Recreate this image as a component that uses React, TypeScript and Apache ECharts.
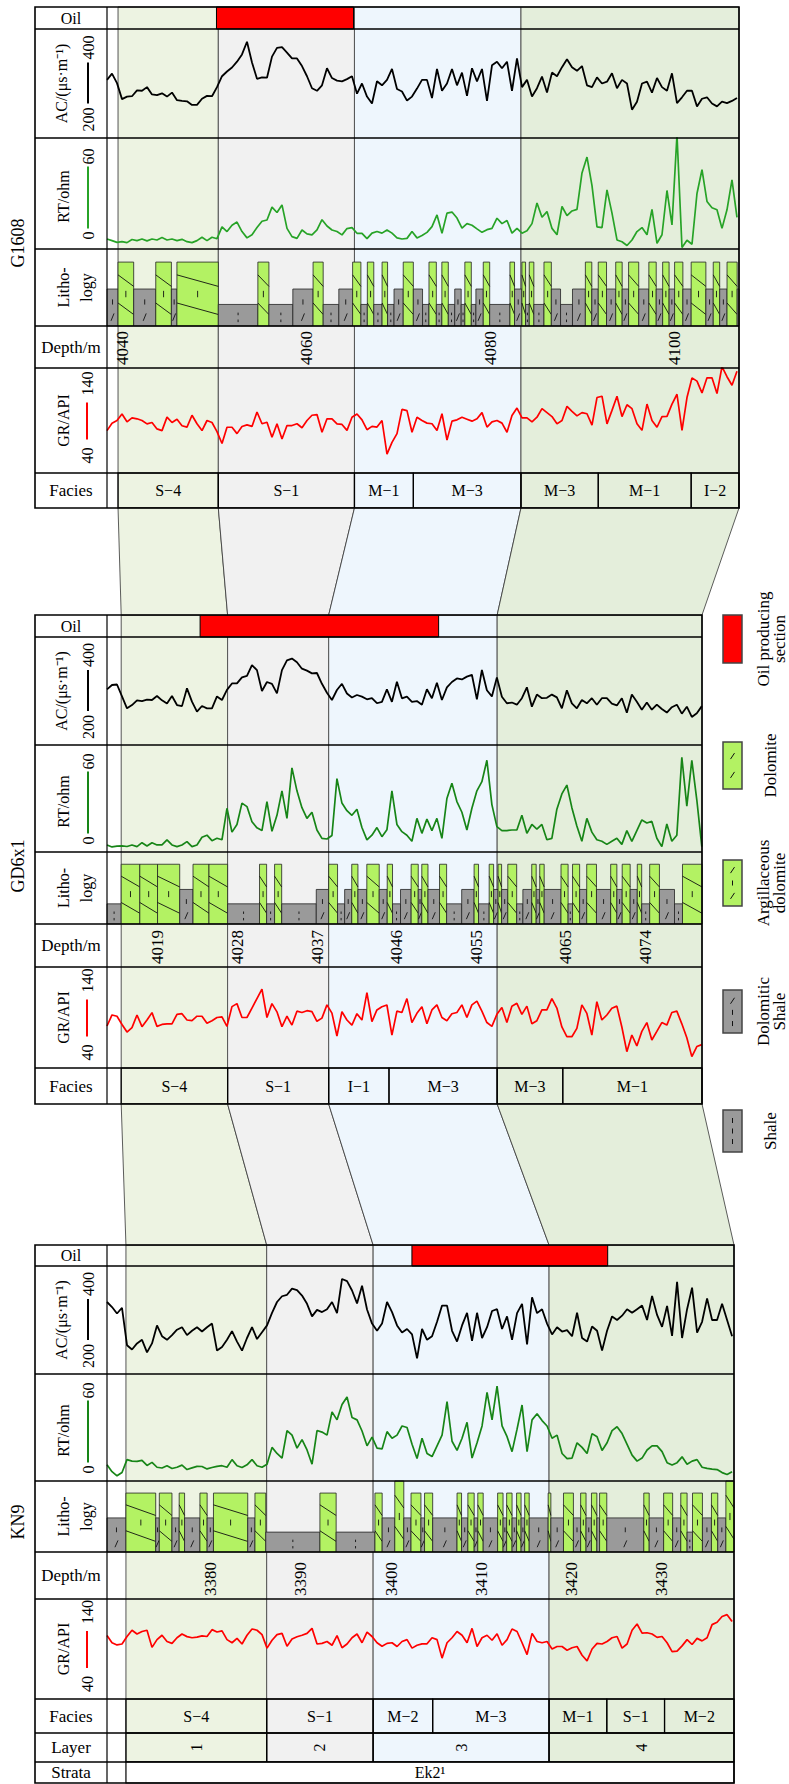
import React, { useEffect, useRef } from 'react';
import * as echarts from 'echarts';

const SERIF = "'Liberation Serif', 'Times New Roman', Times, serif";
const ZONE_COLORS = ['#edf3e2', '#f1f1f1', '#eef6fd', '#e4eedb'];
const GREEN = '#b3f263';
const GRAY = '#9a9a9a';
const LITHO_FRAC = [0.28, 0.48, 0.83, 1.0]; // shale, dolomitic shale, argillaceous dolomite, tall dolomite

// ---------------- Well G1608 ----------------
const G1608_RANGE = [4038.3, 4107.0];
const G1608_SAMPLE_STEP = 0.5435;
const G1608_DEPTH_TICKS = [4040, 4060, 4080, 4100];
const G1608_ZONE_BOUNDS = [4039.5, 4050.4, 4065.2, 4083.3, 4107.0];
const G1608_OIL = [4050.2, 4065.1];
const G1608_FACIES_NAMES = ['S−4', 'S−1', 'M−1', 'M−3', 'M−3', 'M−1', 'I−2'];
const G1608_FACIES_BOUNDS = [4039.5, 4050.4, 4065.2, 4071.6, 4083.3, 4091.7, 4101.8, 4107.0];
const G1608_AC = [310,327,301,257,264,265,281,280,290,270,268,273,264,275,254,252,251,241,241,258,266,265,290,320,333,344,360,380,415,358,313,317,316,374,398,400,385,369,369,348,320,287,280,295,342,315,308,306,312,320,272,300,264,245,306,295,310,340,285,278,253,264,286,310,310,260,340,280,300,340,295,330,266,342,306,340,252,350,360,342,360,280,369,290,310,264,287,319,275,330,320,345,367,345,335,348,295,290,317,300,305,328,287,310,300,228,250,300,305,275,315,290,280,328,246,262,280,280,237,258,262,245,237,250,246,252,260];
const G1608_RT = [6.3,5.3,4.2,4.6,4.0,6.0,5.3,6.3,5.1,6.3,5.7,7.2,5.7,6.3,5.3,6.1,4.6,4.0,5.3,7.4,5.3,7.4,6.5,14,11,15,17,11,7,9,13.5,17.5,18.3,26.4,23,27.8,13,7.8,6.7,12,9.5,8.9,12,18.5,14.5,12,11,8.9,12.9,13.5,9.9,9.9,6.5,10,11,10,12,10,7,6.3,6.7,11,7,8.5,10.5,14.1,21.5,9.9,22.6,23.3,19.5,13.1,16,15,12.7,10.5,12.2,13,19.4,16,18,10,13,10,11.5,16,29,20,23.6,13,9,26.8,21,24,25,48,58,40,14,13.5,37.3,22.6,5.7,4.6,2.2,5.7,11,13.5,9,25,3.6,9,36.9,15.2,72,1,5.5,3,35,50,30,26,24.7,13,24.7,43.6,20];
const G1608_GR = [84.6,95.9,100,110,98,104,102.6,100,94.9,97,87.2,84.6,105.1,97,102,92,90,108,95,84.6,100,97,83,65,89.7,89.7,80,90.8,93.3,91,113,95,97.4,74.4,94.9,71.8,92.3,92.3,95,89,100,108,109,82,102.6,102.6,94.9,94,85,105,110,101,86,91,90,100,48.7,66.7,80,117,115,82,105,100,96,95,84.6,110.3,70.3,99,101,105,102,99,102.6,112,90,98,100,96,82.1,107.7,119,104.1,104.1,98,105,118,112,106,94.9,100,121.5,114,107,112,110.3,93,135,137,94.9,115.4,136.9,106,124,118,95,85,125,100,89.7,106,106.2,125,140,85,135,165,160,142,165,165,141,182,166.7,153.8,175];
const G1608_LITHO = [[4038.3,4039.5,1],[4039.5,4041.2,2],[4041.2,4043.6,1],[4043.6,4045.3,2],[4045.3,4045.9,1],[4045.9,4050.4,2],[4050.4,4054.7,0],[4054.7,4055.9,2],[4055.9,4058.5,0],[4058.5,4060.7,1],[4060.7,4061.8,2],[4061.8,4063.5,0],[4063.5,4065.0,1],[4065.0,4065.9,2],[4065.9,4066.6,0],[4066.6,4067.3,2],[4067.3,4068.2,0],[4068.2,4068.8,2],[4068.8,4069.5,0],[4069.5,4070.5,1],[4070.5,4071.6,2],[4071.6,4072.6,1],[4072.6,4073.3,0],[4073.3,4074.1,2],[4074.1,4074.7,0],[4074.7,4075.4,2],[4075.4,4076.1,0],[4076.1,4076.8,1],[4076.8,4077.2,0],[4077.2,4077.9,2],[4077.9,4078.4,0],[4078.4,4079.2,1],[4079.2,4079.9,2],[4079.9,4082.1,0],[4082.1,4082.6,2],[4082.6,4083.4,1],[4083.4,4083.8,2],[4083.8,4084.2,0],[4084.2,4084.7,2],[4084.7,4085.8,0],[4085.8,4086.6,2],[4086.6,4087.6,1],[4087.6,4088.9,0],[4088.9,4090.3,1],[4090.3,4091.0,2],[4091.0,4091.7,1],[4091.7,4092.6,2],[4092.6,4093.6,1],[4093.6,4094.3,2],[4094.3,4095.0,1],[4095.0,4096.1,2],[4096.1,4097.2,1],[4097.2,4098.0,2],[4098.0,4098.7,1],[4098.7,4099.4,2],[4099.4,4100.0,1],[4100.0,4100.9,2],[4100.9,4101.8,1],[4101.8,4103.4,2],[4103.4,4104.2,1],[4104.2,4104.9,2],[4104.9,4105.7,1],[4105.7,4106.8,2],[4106.8,4107.0,1]];

// ---------------- Well GD6x1 ----------------
const GD6X1_RANGE = [4013.3, 4080.4];
const GD6X1_SAMPLE_STEP = 0.5637;
const GD6X1_DEPTH_TICKS = [4019, 4028, 4037, 4046, 4055, 4065, 4074];
const GD6X1_ZONE_BOUNDS = [4014.9, 4026.9, 4038.3, 4057.3, 4080.4];
const GD6X1_OIL = [4023.8, 4050.7];
const GD6X1_FACIES_NAMES = ['S−4', 'S−1', 'I−1', 'M−3', 'M−3', 'M−1'];
const GD6X1_FACIES_BOUNDS = [4014.9, 4026.9, 4038.3, 4045.1, 4057.3, 4064.7, 4080.4];
const GD6X1_AC = [304.6,316.7,318,285,252,261,274,272,276,275,286,274,265,286,261,258,307.4,270.4,242.6,258.3,251.9,251.9,285,275,303,321,321,338,342,372,358,300,325,320,293.5,358,385,390,380,362,356.5,349,350,320,295,275,302.8,320,293,282,288.9,284.3,277,280,266,270,304.6,270,325.9,279.6,284.3,270,272,262,305,280,323,275,310,325,335,332,340,345,276.9,358.3,302,285,337.9,284,266,268,262,280,310.2,256.5,290,280,281,290,282.4,251.9,301.9,265.7,251.9,275,265.7,280,262,280,280,265,260,280,239.8,290,270.4,248,268,248,262,250,240,255,262,237,256.5,228,238,258];
const GD6X1_RT = [4.6,3.3,3.8,4.0,3.6,4.6,3.5,6.1,3.9,6.1,4.6,4.6,7.9,4.6,3.5,4.6,6.8,3.5,4.6,9.6,11,7.4,9,8,28.6,13,18,32,29.7,19.8,15.8,14,32.9,13.5,24,40,22,55,40,29,22,26,14.4,8.9,8.5,10.8,48,32,27,24,28,16,7.9,11,16,10,14.5,40,18,13.3,11,7,22,12.2,21.5,14,22,8.9,35,45,33,26,14.4,28.6,40,46,60,31,16.6,14,14,14.4,14.4,24,12.2,18,15,18,8,8.9,28,38,43.8,29,17,7,22,13,8,7,5,7,9,5,14,7,14,21,19,20,9,3.5,18.3,7,11,62,30,60,34,3.5];
const GD6X1_GR = [86.5,104,102,89,77,84,104,85.5,96,107.7,86,89,90,90,105,106,96,95,102,102,91,95,100,101,86,117.2,122,100,100,115,130,145,100,122,109,85.5,102,88,110,108,110.8,109.2,94,99,120,107,70.7,109.2,96,88,106,96,139.3,93.4,112,117,119.8,72,110,108,130,92,106.6,117.2,90,112,120,100,95,106,108,120,100,120,126,110,92,86,105,116,92,118,122.5,105,118,90,95,112,112,130,115,85,69.6,69.6,82.8,120,106.6,72,125,96,104,114.5,118,85,45.9,72.3,55,78,92,64.4,78,92,88,108,110,90,68,38,54,57];
const GD6X1_LITHO = [[4013.3,4014.9,0],[4014.9,4017.0,2],[4017.0,4019.0,2],[4019.0,4021.5,2],[4021.5,4023.0,1],[4023.0,4024.8,2],[4024.8,4026.9,2],[4026.9,4030.5,0],[4030.5,4031.3,2],[4031.3,4032.2,0],[4032.2,4033.0,2],[4033.0,4036.9,0],[4036.9,4038.3,1],[4038.3,4039.3,2],[4039.3,4040.1,0],[4040.1,4040.9,1],[4040.9,4041.6,2],[4041.6,4042.6,1],[4042.6,4044.0,2],[4044.0,4044.9,1],[4044.9,4045.5,2],[4045.5,4046.4,0],[4046.4,4047.6,1],[4047.6,4048.4,2],[4048.4,4048.8,1],[4048.8,4049.5,2],[4049.5,4050.8,1],[4050.8,4051.6,2],[4051.6,4053.3,0],[4053.3,4054.7,1],[4054.7,4055.2,2],[4055.2,4056.4,0],[4056.4,4056.9,2],[4056.9,4057.4,1],[4057.4,4057.8,2],[4057.8,4058.5,1],[4058.5,4059.5,2],[4059.5,4060.2,0],[4060.2,4061.2,1],[4061.2,4061.7,2],[4061.7,4062.1,1],[4062.1,4062.6,2],[4062.6,4064.5,1],[4064.5,4065.3,2],[4065.3,4065.8,0],[4065.8,4066.6,2],[4066.6,4067.4,1],[4067.4,4068.5,2],[4068.5,4070.1,1],[4070.1,4070.8,2],[4070.8,4071.4,1],[4071.4,4072.3,2],[4072.3,4073.1,1],[4073.1,4073.6,2],[4073.6,4074.5,0],[4074.5,4075.6,2],[4075.6,4077.3,1],[4077.3,4078.2,0],[4078.2,4080.4,2]];

// ---------------- Well KN9 ----------------
const KN9_RANGE = [3368.5, 3438.0];
const KN9_SAMPLE_STEP = 0.5543;
const KN9_DEPTH_TICKS = [3380, 3390, 3400, 3410, 3420, 3430];
const KN9_ZONE_BOUNDS = [3370.6, 3386.2, 3398.0, 3417.5, 3438.0];
const KN9_OIL = [3402.3, 3424.0];
const KN9_FACIES_NAMES = ['S−4', 'S−1', 'M−2', 'M−3', 'M−1', 'S−1', 'M−2'];
const KN9_FACIES_BOUNDS = [3370.6, 3386.2, 3398.0, 3404.6, 3417.5, 3423.9, 3430.3, 3438.0];
const KN9_LAYER_NAMES = ['1', '2', '3', '4'];
const KN9_LAYER_BOUNDS = [3370.6, 3386.2, 3398.0, 3417.5, 3438.0];
const KN9_STRATA_NAMES = ['Ek2¹'];
const KN9_STRATA_BOUNDS = [3370.6, 3438.0];
const KN9_AC = [350,336,318,334,230,218,235,245,210,235,285,255,245,258,273,280,258,270,280,268,280,290,215,225,245,269,240,215,250,280,247,266,285,320,350,366,370,387,383,368,345,310,328,322,330,350,319,414,408,382,346,395,329,290,270,290,350,322,285,265,275,260,193.5,275,245,255,295,340,340,270,240,285,320,242,320,250,280,325,330,275,310,245,319,345,232,363,319,330,290,260,280,268,272,255,320,250,240,282,270,215,270,310,300,312,330,320,330,340,300,367,314,281,339,256,406,250,330,390,265,295,360,300,300,345,300,255];
const KN9_RT = [10.6,6.1,3.4,5.6,14,13,12.8,13.5,10.2,12.2,9,8.5,10,8.2,9,10.4,7.5,8.6,9.6,9.5,7.9,8.8,9.6,10,9,14,10,8.8,10.6,14,10,9,11,22,18,15,33,30,21.5,27.1,20.3,11,33,32,30,45.2,40,50,55,41.5,40,32.7,23,28.7,21.5,21,32.3,28,30,36,35,24,14.7,28,18,16,23,30,51.9,26,20,28,38.4,15,25,36,58,40,62.1,36,29,19.2,33.9,49.7,19.2,40,44,39.5,36,28,30,18,14.7,15,25,22,18,31,29,20,25,33,35.5,31,24,16.9,13,15,20.3,23,23,19.2,12,10.5,12,15.8,11,13,14,9,8.3,7.8,7.5,5.5,4.2,6];
const KN9_GR = [121.5,110,106.5,108,120,130,124,128,130,102.6,115,122,112,109,118,124,119.8,118,119,121,120,131,127.2,129,115,110,117,108,122,132,130,123,101.4,114,123,125,104.3,116,119.5,122,125,133,108,109,112,106,121.5,102,108,118,124,110,127,120,110,104.3,109,110,104,112,115,101.4,106,108.3,108.3,118,115,85.4,110,118,128,122,110,133,104,118,122,114,124.4,106,115,132,128,110,91.1,125,112,110,112,100,104,104,98,102,104,90,81,100,109,108,112,118,120,101.4,108,130,140,125.5,126,124,118.6,120,110,95.7,96.5,105,115,107.2,117,113,118,139,142.7,152,155,144];
const KN9_LITHO = [[3368.5,3370.6,1],[3370.6,3373.9,2],[3373.9,3374.3,1],[3374.3,3375.7,2],[3375.7,3376.5,1],[3376.5,3377.1,2],[3377.1,3378.8,1],[3378.8,3379.6,2],[3379.6,3380.3,1],[3380.3,3384.1,2],[3384.1,3384.9,1],[3384.9,3386.1,2],[3386.1,3392.1,0],[3392.1,3393.9,2],[3393.9,3398.2,0],[3398.2,3399.0,2],[3399.0,3400.4,1],[3400.4,3401.4,3],[3401.4,3402.2,1],[3402.2,3403.3,2],[3403.3,3403.7,1],[3403.7,3404.6,2],[3404.6,3407.3,1],[3407.3,3407.8,2],[3407.8,3408.5,1],[3408.5,3409.2,2],[3409.2,3409.6,1],[3409.6,3410.2,2],[3410.2,3411.8,1],[3411.8,3412.4,2],[3412.4,3412.8,1],[3412.8,3413.4,2],[3413.4,3413.9,1],[3413.9,3414.4,2],[3414.4,3414.8,1],[3414.8,3415.3,2],[3415.3,3417.4,1],[3417.4,3417.7,2],[3417.7,3419.1,1],[3419.1,3420.2,2],[3420.2,3421.0,1],[3421.0,3421.6,2],[3421.6,3422.2,1],[3422.2,3422.8,2],[3422.8,3423.1,1],[3423.1,3423.9,2],[3423.9,3428.0,1],[3428.0,3428.6,2],[3428.6,3430.2,1],[3430.2,3431.2,2],[3431.2,3432.1,1],[3432.1,3432.8,2],[3432.8,3433.4,0],[3433.4,3434.5,2],[3434.5,3435.5,1],[3435.5,3436.2,2],[3436.2,3437.1,1],[3437.1,3438.0,3]];

const LEGEND_ITEMS = [
  { kind: 'oil', lines: ['Oil producing', 'section'] },
  { kind: 'dolomite', lines: ['Dolomite'] },
  { kind: 'argdol', lines: ['Argillaceous', 'dolomite'] },
  { kind: 'dolshale', lines: ['Dolomitic', 'Shale'] },
  { kind: 'shale', lines: ['Shale'] },
];

// ---------------- layout (pixels) ----------------
const LAYOUT = [
  { left: 35, labelRight: 107, right: 739, nameY: 243, rtColor: '#27a327',
    rows: { oil: [7, 29], ac: [29, 138], rt: [138, 249], litho: [249, 326], depth: [326, 368], gr: [368, 473], facies: [473, 508] } as Record<string, number[]> },
  { left: 35, labelRight: 107, right: 702, nameY: 866, rtColor: '#178517',
    rows: { oil: [615, 637], ac: [637, 745], rt: [745, 852], litho: [852, 924], depth: [924, 967], gr: [967, 1068], facies: [1068, 1104] } as Record<string, number[]> },
  { left: 35, labelRight: 107, right: 734, nameY: 1522, rtColor: '#178517',
    rows: { oil: [1245, 1266], ac: [1266, 1374], rt: [1374, 1481], litho: [1481, 1552], depth: [1552, 1599], gr: [1599, 1699], facies: [1699, 1733], layer: [1733, 1762], strata: [1762, 1783] } as Record<string, number[]> },
];
const LEGEND_LAYOUT = { x0: 723, x1: 742, boxes: [[615, 663], [742, 789], [860, 906], [990, 1033], [1110, 1152]] };

const WELLS: any[] = [
  { name: 'G1608', range: G1608_RANGE, step: G1608_SAMPLE_STEP, ticks: G1608_DEPTH_TICKS, zones: G1608_ZONE_BOUNDS, oil: G1608_OIL,
    facies: [G1608_FACIES_NAMES, G1608_FACIES_BOUNDS], ac: G1608_AC, rt: G1608_RT, gr: G1608_GR, litho: G1608_LITHO },
  { name: 'GD6x1', range: GD6X1_RANGE, step: GD6X1_SAMPLE_STEP, ticks: GD6X1_DEPTH_TICKS, zones: GD6X1_ZONE_BOUNDS, oil: GD6X1_OIL,
    facies: [GD6X1_FACIES_NAMES, GD6X1_FACIES_BOUNDS], ac: GD6X1_AC, rt: GD6X1_RT, gr: GD6X1_GR, litho: GD6X1_LITHO },
  { name: 'KN9', range: KN9_RANGE, step: KN9_SAMPLE_STEP, ticks: KN9_DEPTH_TICKS, zones: KN9_ZONE_BOUNDS, oil: KN9_OIL,
    facies: [KN9_FACIES_NAMES, KN9_FACIES_BOUNDS], layer: [KN9_LAYER_NAMES, KN9_LAYER_BOUNDS], strata: [KN9_STRATA_NAMES, KN9_STRATA_BOUNDS],
    ac: KN9_AC, rt: KN9_RT, gr: KN9_GR, litho: KN9_LITHO },
];

const AC_RANGE = [150, 450];
const RT_RANGE = [0, 70];
const GR_RANGE = [20, 180];

function seg(x1: number, y1: number, x2: number, y2: number, color = '#111', w = 0.9) {
  return { type: 'line', shape: { x1, y1, x2, y2 }, style: { stroke: color, lineWidth: w } };
}

function lithoRender(params: any, api: any) {
  const s = api.value(0), e = api.value(1), t = api.value(2);
  const a = api.coord([s, 0]);
  const b = api.coord([e, 1]);
  const x = a[0];
  const w = b[0] - a[0];
  const H = a[1] - b[1];
  const bh = H * LITHO_FRAC[t];
  const top = a[1] - bh;
  const green = t >= 2;
  const children: any[] = [
    { type: 'rect', shape: { x, y: top, width: w, height: bh }, style: { fill: green ? GREEN : GRAY, stroke: '#222', lineWidth: 0.8 } },
  ];
  const cx = x + w / 2;
  if (green) {
    children.push(seg(x, top + bh * 0.2, x + w, top + bh * 0.38));
    children.push(seg(x, top + bh * 0.64, x + w, top + bh * 0.82));
    if (w > 3) children.push(seg(cx, top + bh * 0.45, cx, top + bh * 0.55));
  } else if (t === 1) {
    if (w > 3) {
      children.push(seg(cx, top + bh * 0.28, cx, top + bh * 0.42));
      children.push(seg(cx - 1.5, top + bh * 0.86, cx + 1.5, top + bh * 0.66));
    }
  } else if (w > 3) {
    children.push(seg(cx, top + bh * 0.38, cx, top + bh * 0.5));
    children.push(seg(cx, top + bh * 0.7, cx, top + bh * 0.82));
  }
  return { type: 'group', children };
}

function zoneRender(params: any, api: any) {
  const a = api.coord([api.value(0), 0]);
  const b = api.coord([api.value(1), 1]);
  return { type: 'rect', shape: { x: a[0], y: b[1], width: b[0] - a[0], height: a[1] - b[1] },
    style: { fill: ZONE_COLORS[api.value(2)], stroke: '#555', lineWidth: 1 } };
}

function oilRender(params: any, api: any) {
  const a = api.coord([api.value(0), 0]);
  const b = api.coord([api.value(1), 1]);
  return { type: 'rect', shape: { x: a[0], y: b[1], width: b[0] - a[0], height: a[1] - b[1] },
    style: { fill: '#ff0000', stroke: '#000', lineWidth: 1 } };
}

function cellRender(names: string[], rotate: boolean, fill: string) {
  return (params: any, api: any) => {
    const a = api.coord([api.value(0), 0]);
    const b = api.coord([api.value(1), 1]);
    const x = a[0], y = b[1], w = b[0] - a[0], h = a[1] - b[1];
    return { type: 'group', children: [
      { type: 'rect', shape: { x, y, width: w, height: h }, style: { fill, stroke: '#000', lineWidth: 1.2 } },
      { type: 'text', x: x + w / 2, y: y + h / 2, rotation: rotate ? Math.PI / 2 : 0,
        style: { text: names[params.dataIndex], fill: '#000', fontSize: 16, fontFamily: SERIF, align: 'center', verticalAlign: 'middle' } },
    ] };
  };
}

function depthRender(params: any, api: any) {
  const v = api.value(0);
  const p = api.coord([v, 0]);
  return { type: 'text', x: p[0], y: p[1] - 3, rotation: Math.PI / 2,
    style: { text: String(v), fill: '#000', fontSize: 17, fontFamily: SERIF, align: 'left', verticalAlign: 'middle' } };
}

function buildOption() {
  const grid: any[] = [], xAxis: any[] = [], yAxis: any[] = [], series: any[] = [];
  const bgIdx: number[] = [];
  const addGrid = (left: number, right: number, top: number, bottom: number, xr: number[], yr: number[]) => {
    const idx = grid.length;
    grid.push({ left, top, width: right - left, height: bottom - top, show: false });
    xAxis.push({ type: 'value', gridIndex: idx, min: xr[0], max: xr[1], show: false });
    yAxis.push({ type: 'value', gridIndex: idx, min: yr[0], max: yr[1], show: false });
    return idx;
  };
  WELLS.forEach((w, p) => {
    const L = LAYOUT[p];
    const r = L.rows;
    const x0 = L.labelRight, x1 = L.right;
    const bgBottom = (r.layer || r.facies)[1];
    const bg = addGrid(x0, x1, r.oil[0], bgBottom, w.range, [0, 1]);
    bgIdx.push(bg);
    const zoneData = w.zones.slice(0, -1).map((z: number, i: number) => [z, w.zones[i + 1], i]);
    series.push({ type: 'custom', xAxisIndex: bg, yAxisIndex: bg, data: zoneData, renderItem: zoneRender, z: 1, silent: true });

    const og = addGrid(x0, x1, r.oil[0], r.oil[1], w.range, [0, 1]);
    series.push({ type: 'custom', xAxisIndex: og, yAxisIndex: og, data: [w.oil], renderItem: oilRender, z: 2, silent: true });

    const curve = (vals: number[]) => vals.map((v, i) => [w.range[0] + i * w.step, v]);
    const ag = addGrid(x0, x1, r.ac[0], r.ac[1], w.range, AC_RANGE);
    series.push({ type: 'line', name: 'AC', xAxisIndex: ag, yAxisIndex: ag, data: curve(w.ac), symbol: 'none', clip: true,
      lineStyle: { color: '#000', width: 1.8 }, z: 4, silent: true });
    const rg = addGrid(x0, x1, r.rt[0], r.rt[1], w.range, RT_RANGE);
    series.push({ type: 'line', name: 'RT', xAxisIndex: rg, yAxisIndex: rg, data: curve(w.rt), symbol: 'none', clip: true,
      lineStyle: { color: L.rtColor, width: 1.7 }, z: 4, silent: true });
    const gg = addGrid(x0, x1, r.gr[0], r.gr[1], w.range, GR_RANGE);
    series.push({ type: 'line', name: 'GR', xAxisIndex: gg, yAxisIndex: gg, data: curve(w.gr), symbol: 'none', clip: true,
      lineStyle: { color: '#ff0000', width: 1.7 }, z: 4, silent: true });

    const lg = addGrid(x0, x1, r.litho[0], r.litho[1], w.range, [0, 1]);
    series.push({ type: 'custom', xAxisIndex: lg, yAxisIndex: lg, data: w.litho, renderItem: lithoRender, z: 3, silent: true });

    const dg = addGrid(x0, x1, r.depth[0], r.depth[1], w.range, [0, 1]);
    series.push({ type: 'custom', xAxisIndex: dg, yAxisIndex: dg, data: w.ticks.map((t: number) => [t, 0]), renderItem: depthRender, z: 5, silent: true });

    const cells = (spec: any, row: number[], rotate: boolean, fill: string) => {
      const [names, bounds] = spec;
      const g = addGrid(x0, x1, row[0], row[1], w.range, [0, 1]);
      const data = names.map((n: string, i: number) => [bounds[i], bounds[i + 1]]);
      series.push({ type: 'custom', xAxisIndex: g, yAxisIndex: g, data, renderItem: cellRender(names, rotate, fill), z: 5, silent: true });
    };
    cells(w.facies, r.facies, false, 'transparent');
    if (w.layer) cells(w.layer, r.layer, true, 'transparent');
    if (w.strata) cells(w.strata, r.strata, false, '#ffffff');
  });
  return { option: { animation: false, backgroundColor: '#ffffff', grid, xAxis, yAxis, series }, bgIdx };
}

function T(x: number, y: number, text: string, opt: any = {}) {
  return { type: 'text', x, y, rotation: opt.rot ? Math.PI / 2 : 0, z: 60,
    style: { text, fill: opt.color || '#000', fontSize: opt.size || 16, fontFamily: SERIF, align: 'center', verticalAlign: 'middle' } };
}
function LN(x1: number, y1: number, x2: number, y2: number, color: string, w: number) {
  return { type: 'line', z: 55, shape: { x1, y1, x2, y2 }, style: { stroke: color, lineWidth: w } };
}

function buildGraphics(chart: any, bgIdx: number[]) {
  const els: any[] = [];
  const px = (i: number, v: number) => chart.convertToPixel({ xAxisIndex: bgIdx[i] }, v) as number;

  // connectors between wells
  for (let p = 0; p < 2; p++) {
    const yTop = LAYOUT[p].rows.facies[1];
    const yBot = LAYOUT[p + 1].rows.oil[0];
    const za = WELLS[p].zones, zb = WELLS[p + 1].zones;
    for (let k = 0; k < za.length - 1; k++) {
      els.push({ type: 'polygon', z: 5,
        shape: { points: [[px(p, za[k]), yTop], [px(p, za[k + 1]), yTop], [px(p + 1, zb[k + 1]), yBot], [px(p + 1, zb[k]), yBot]] },
        style: { fill: ZONE_COLORS[k], stroke: '#333', lineWidth: 0.8 } });
    }
  }

  LAYOUT.forEach((L, p) => {
    const r = L.rows;
    const keys = Object.keys(r);
    const top = r[keys[0]][0];
    const bottom = r[keys[keys.length - 1]][1];
    els.push({ type: 'rect', z: 50, shape: { x: L.left, y: top, width: L.right - L.left, height: bottom - top },
      style: { fill: 'transparent', stroke: '#000', lineWidth: 1.6 } });
    keys.slice(0, -1).forEach((k) => els.push(LN(L.left, r[k][1], L.right, r[k][1], '#000', 1.3)));
    els.push(LN(L.labelRight, top, L.labelRight, bottom, '#000', 1.2));

    const c = (row: number[]) => (row[0] + row[1]) / 2;
    const CX = (L.left + L.labelRight) / 2;
    els.push(T(CX, c(r.oil), 'Oil'));
    let y = c(r.ac);
    els.push(T(61, y, 'AC/(μs·m⁻¹)', { rot: true }));
    els.push(T(88, y - 36, '400', { rot: true }), LN(88, y - 21, 88, y + 20, '#000', 2), T(88, y + 36, '200', { rot: true }));
    y = c(r.rt);
    els.push(T(63, y + 3, 'RT/ohm', { rot: true }));
    els.push(T(88, y - 37, '60', { rot: true }), LN(88, y - 27, 88, y + 35, L.rtColor, 2), T(88, y + 42, '0', { rot: true }));
    y = c(r.litho);
    els.push(T(63, y, 'Litho-', { rot: true }), T(86, y, 'logy', { rot: true }));
    els.push(T(CX, c(r.depth), 'Depth/m', { size: 17 }));
    y = c(r.gr);
    els.push(T(63, y, 'GR/API', { rot: true }));
    els.push(T(87, y - 37, '140', { rot: true }), LN(87, y - 18, 87, y + 19, '#ff0000', 2), T(87, y + 35, '40', { rot: true }));
    els.push(T(CX, c(r.facies), 'Facies', { size: 17 }));
    if (r.layer) els.push(T(CX, c(r.layer), 'Layer', { size: 17 }));
    if (r.strata) els.push(T(CX, c(r.strata), 'Strata', { size: 17 }));
    els.push(T(18, L.nameY, WELLS[p].name, { rot: true, size: 18 }));
  });

  // legend
  const { x0, x1, boxes } = LEGEND_LAYOUT;
  const cx = (x0 + x1) / 2;
  LEGEND_ITEMS.forEach((it, i) => {
    const [b0, b1] = boxes[i];
    const h = b1 - b0;
    const fill = it.kind === 'oil' ? '#ff0000' : (it.kind === 'dolomite' || it.kind === 'argdol') ? GREEN : GRAY;
    els.push({ type: 'rect', z: 50, shape: { x: x0, y: b0, width: x1 - x0, height: h }, style: { fill, stroke: '#444', lineWidth: 1.5 } });
    const slash = (f: number) => LN(cx - 2, b0 + h * f + 3, cx + 2, b0 + h * f - 3, '#111', 1);
    const tick = (f: number) => LN(cx, b0 + h * f - 2.5, cx, b0 + h * f + 2.5, '#111', 1);
    if (it.kind === 'dolomite') els.push(slash(0.3), slash(0.7));
    if (it.kind === 'argdol') els.push(slash(0.22), tick(0.5), slash(0.78));
    if (it.kind === 'dolshale') els.push(slash(0.25), tick(0.52), tick(0.78));
    if (it.kind === 'shale') els.push(tick(0.25), tick(0.5), tick(0.75));
    const cy = (b0 + b1) / 2;
    if (it.lines.length === 2) {
      els.push(T(763, cy, it.lines[0], { rot: true, size: 17 }), T(779, cy, it.lines[1], { rot: true, size: 17 }));
    } else {
      els.push(T(770, cy, it.lines[0], { rot: true, size: 17 }));
    }
  });
  return els;
}

export default function App() {
  const ref = useRef<HTMLDivElement>(null);
  useEffect(() => {
    const chart = echarts.init(ref.current!, null, { renderer: 'svg', width: 789, height: 1784 });
    const { option, bgIdx } = buildOption();
    chart.setOption(option);
    chart.setOption({ graphic: { elements: buildGraphics(chart, bgIdx) } });
    return () => chart.dispose();
  }, []);
  return <div ref={ref} style={{ position: 'absolute', left: 0, top: 0, width: 789, height: 1784 }} />;
}
